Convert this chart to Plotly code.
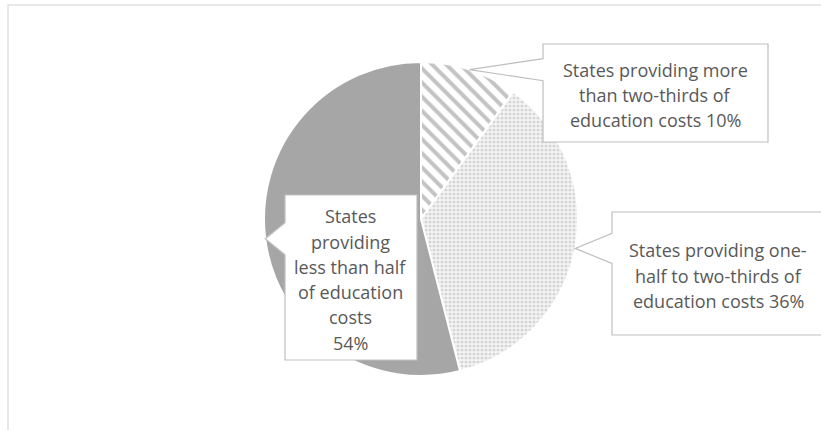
import math
import plotly.graph_objects as go

# ---- data ----
categories = [
    "States providing more than two-thirds of education costs",
    "States providing one-half to two-thirds of education costs",
    "States providing less than half of education costs",
]
values = [10, 36, 54]
label_lines = [
    ["States providing more", "than two-thirds of", "education costs"],
    ["States providing one-", "half to two-thirds of", "education costs"],
    ["States", "providing", "less than half", "of education", "costs"],
]
pct_on_own_line = [False, False, True]

W, H = 821, 430
# pie geometry (pixels)
CX, CY, R = 421, 219, 157

# callout boxes (pixels): left, top, right, bottom, notch half-height
boxes = [
    (543, 44, 768, 142, 11),
    (612, 212, 830, 335, 15),
    (285, 195, 417, 360, 16),
]
text_centers_x = [655, 718, 350]

def px(x, y):
    return x / W, 1 - y / H

fig = go.Figure()
fig.add_trace(go.Pie(
    labels=categories,
    values=values,
    sort=False,
    direction="clockwise",
    rotation=0,
    textinfo="none",
    hole=0,
    showlegend=False,
    marker=dict(
        colors=["#ffffff", "#f4f4f4", "#a6a6a6"],
        line=dict(color="#ffffff", width=2),
        pattern=dict(
            shape=["\\", ".", ""],
            fgcolor=["#c3c3c3", "#d6d6d6", "#a6a6a6"],
            bgcolor=["#ffffff", "#f7f7f7", "#a6a6a6"],
            size=[10, 4, 8],
            solidity=[0.4, 0.5, 0.3],
        ),
    ),
    domain=dict(x=[(CX - R) / W, (CX + R) / W], y=[1 - (CY + R) / H, 1 - (CY - R) / H]),
))

shapes = []
# outer chart frame
x0, y0 = px(8, 5)
x1, y1 = px(835, 440)
shapes.append(dict(type="rect", xref="paper", yref="paper", x0=x0, y0=y1, x1=x1, y1=y0,
                   line=dict(color="#e2e2e2", width=1.5), fillcolor="rgba(0,0,0,0)", layer="below"))

annotations = []
total = sum(values)
cum = 0
for i, v in enumerate(values):
    mid = (cum + v / 2) / total * 2 * math.pi
    cum += v
    tx = CX + R * math.sin(mid)
    ty = CY - R * math.cos(mid)
    l, t, r, b, nh = boxes[i]
    ny = min(max(ty, t + nh + 4), b - nh - 4)
    pts = [(l, t), (r, t), (r, b), (l, b), (l, ny + nh), (tx, ty), (l, ny - nh)]
    path = "M " + " L ".join("%.5f,%.5f" % px(x, y) for x, y in pts) + " Z"
    shapes.append(dict(type="path", xref="paper", yref="paper", path=path,
                       fillcolor="#ffffff", line=dict(color="#bfbfbf", width=1.2), layer="above"))
    lines = list(label_lines[i])
    pct = "%d%%" % v
    if pct_on_own_line[i]:
        lines.append(pct)
    else:
        lines[-1] = lines[-1] + " " + pct
    n = len(lines)
    spacing = 25.2
    cxb = text_centers_x[i]
    cyb = (t + b) / 2 + 2
    for k, s in enumerate(lines):
        yy = cyb + (k - (n - 1) / 2) * spacing
        ax_, ay_ = px(cxb, yy)
        annotations.append(dict(x=ax_, y=ay_, xref="paper", yref="paper", text=s,
                                showarrow=False, xanchor="center", yanchor="middle",
                                font=dict(family="Open Sans", size=18, color="#595959")))

fig.update_layout(
    width=W, height=H,
    margin=dict(l=0, r=0, t=0, b=0),
    paper_bgcolor="#ffffff",
    plot_bgcolor="#ffffff",
    shapes=shapes,
    annotations=annotations,
)
fig.write_html("out.html", config={"displayModeBar": False},
               post_script="document.body.style.margin='0';document.body.style.overflow='hidden';")
